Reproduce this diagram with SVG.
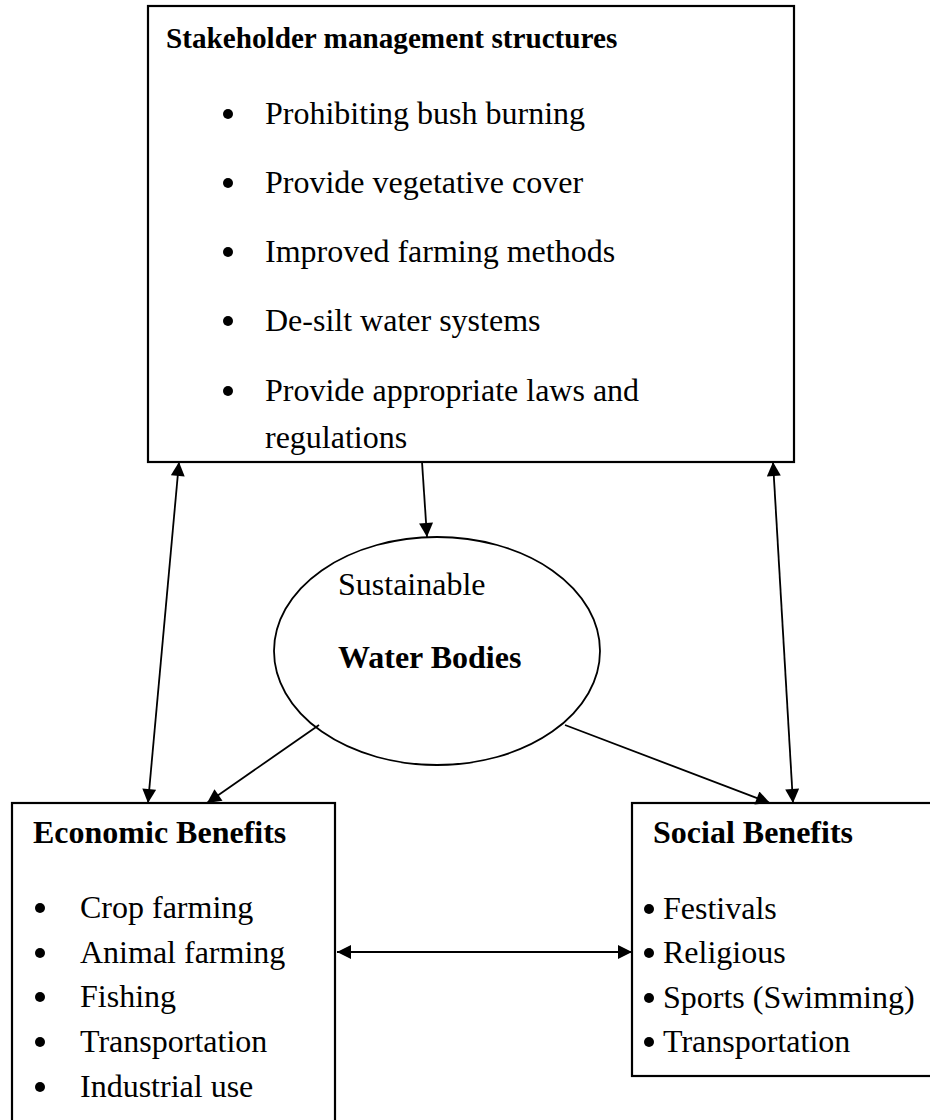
<svg xmlns="http://www.w3.org/2000/svg" width="930" height="1120" viewBox="0 0 930 1120">
<style>
.box{fill:#fff;stroke:#000;stroke-width:2.2}
.ell{fill:#fff;stroke:#000;stroke-width:1.8}
.t{font-family:"Liberation Serif","Times New Roman",serif;font-size:32px;fill:#000}
.b{font-family:"Liberation Serif","Times New Roman",serif;font-size:32px;font-weight:bold;fill:#000}
.bt{font-family:"Liberation Serif","Times New Roman",serif;font-size:29.2px;font-weight:bold;fill:#000}
.dot{fill:#000}
.c{stroke:#000;stroke-width:1.8;fill:none}
</style>
<defs>
<marker id="ah" viewBox="0 0 10 10" markerUnits="userSpaceOnUse" markerWidth="15" markerHeight="14" refX="10" refY="5" orient="auto-start-reverse">
<path d="M0,0 L10,5 L0,10 z" fill="#000"/>
</marker>
</defs>
<rect x="0" y="0" width="930" height="1120" fill="#fff"/>
<g id="stakeholder">
<rect class="box" x="148" y="6" width="646" height="456"/>
<text class="bt" x="166" y="48">Stakeholder management structures</text>
<circle class="dot" cx="228" cy="114" r="5"/>
<text class="t" x="265" y="124">Prohibiting bush burning</text>
<circle class="dot" cx="228" cy="183" r="5"/>
<text class="t" x="265" y="193">Provide vegetative cover</text>
<circle class="dot" cx="228" cy="252" r="5"/>
<text class="t" x="265" y="262">Improved farming methods</text>
<circle class="dot" cx="228" cy="321" r="5"/>
<text class="t" x="265" y="331">De-silt water systems</text>
<circle class="dot" cx="228" cy="391" r="5"/>
<text class="t" x="265" y="401">Provide appropriate laws and</text>
<text class="t" x="265" y="448">regulations</text>
</g>
<g id="water">
<ellipse class="ell" cx="437" cy="651" rx="163" ry="114"/>
<text class="t" x="338" y="595">Sustainable</text>
<text class="b" x="338" y="668">Water Bodies</text>
</g>
<g id="economic">
<rect class="box" x="12" y="803" width="323" height="330"/>
<text class="b" x="33" y="843">Economic Benefits</text>
<circle class="dot" cx="40" cy="908" r="5"/>
<text class="t" x="80" y="918">Crop farming</text>
<circle class="dot" cx="40" cy="953" r="5"/>
<text class="t" x="80" y="963">Animal farming</text>
<circle class="dot" cx="40" cy="997" r="5"/>
<text class="t" x="80" y="1007">Fishing</text>
<circle class="dot" cx="40" cy="1042" r="5"/>
<text class="t" x="80" y="1052">Transportation</text>
<circle class="dot" cx="40" cy="1087" r="5"/>
<text class="t" x="80" y="1097">Industrial use</text>
</g>
<g id="social">
<rect class="box" x="632" y="803" width="310" height="273"/>
<text class="b" x="653" y="843">Social Benefits</text>
<circle class="dot" cx="649" cy="909" r="5"/>
<text class="t" x="663" y="919">Festivals</text>
<circle class="dot" cx="649" cy="953" r="5"/>
<text class="t" x="663" y="963">Religious</text>
<circle class="dot" cx="649" cy="998" r="5"/>
<text class="t" x="663" y="1008">Sports (Swimming)</text>
<circle class="dot" cx="649" cy="1042" r="5"/>
<text class="t" x="663" y="1052">Transportation</text>
</g>
<g id="connectors">
<line class="c" x1="179" y1="462" x2="148" y2="803" marker-start="url(#ah)" marker-end="url(#ah)"/>
<line class="c" x1="422" y1="462" x2="427" y2="537" marker-end="url(#ah)"/>
<line class="c" x1="773" y1="462" x2="793" y2="803" marker-start="url(#ah)" marker-end="url(#ah)"/>
<line class="c" x1="319" y1="725" x2="207" y2="803" marker-end="url(#ah)"/>
<line class="c" x1="565" y1="725" x2="770" y2="803" marker-end="url(#ah)"/>
<line class="c" x1="337" y1="952" x2="632" y2="952" marker-start="url(#ah)" marker-end="url(#ah)"/>
</g>
</svg>
